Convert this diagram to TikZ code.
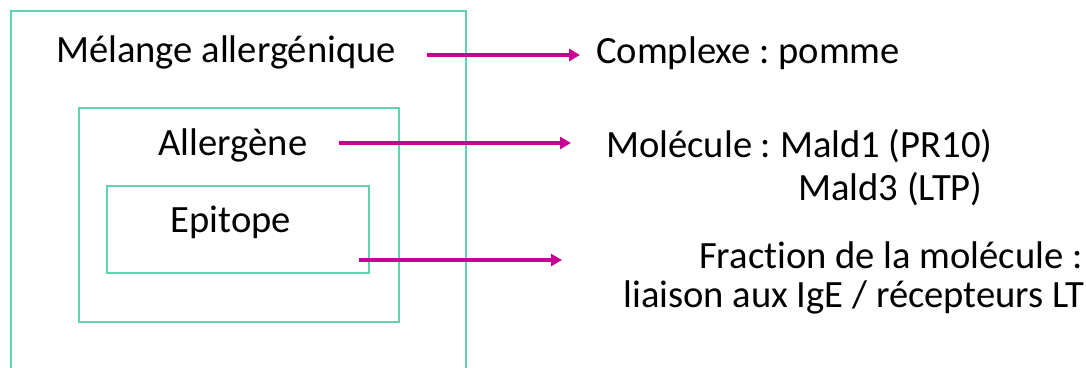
\documentclass[tikz,border=0pt]{standalone}
\usepackage{fontspec}
\setmainfont{Carlito}[Ligatures=NoCommon]
\usepackage{xcolor}
\usetikzlibrary{positioning,arrows.meta}
\definecolor{zonegreen}{RGB}{95,212,168}
\definecolor{lienmagenta}{RGB}{200,0,150}
\frenchspacing

\begin{document}
\begin{tikzpicture}[x=1pt, y=-1pt,
    zone box/.style={draw=zonegreen, line width=1.5pt, anchor=north west},
    label text/.style={font=\fontsize{38.6}{46}\selectfont, inner sep=0pt},
    lien/.style={draw=lienmagenta, line width=3.5pt, -{Triangle[length=11pt,width=12pt]}}]
    \useasboundingbox (0,0) rectangle (1086,367);

    \node[zone box, minimum width=455, minimum height=420] (melangebox) at (10,10) {};
    \node[zone box, minimum width=320, minimum height=214] (allergenebox) at (78,107) {};
    \node[zone box, minimum width=262, minimum height=87] (epitopebox) at (106,185) {};

    \node[label text, anchor=base] (melange) at (226,62) {Mélange allergénique};
    \node[label text, anchor=base] (allergene) at (233,155) {Allergène};
    \node[label text, anchor=base] (epitope) at (231,232) {Epitope};

    \node[label text, anchor=base west] (complexe) at (596,63) {Complexe : pomme};
    \node[label text, anchor=base west] (molecule) at (606,157) {Molécule : Mald1 (PR10)};
    \node[label text, anchor=base west] (mald3) at (798,200) {Mald3 (LTP)};
    \node[label text, anchor=base east] (fraction) at (1083,268) {Fraction de la molécule :};
    \node[label text, anchor=base east] (liaison) at (1085,307) {liaison aux IgE / récepteurs LT};

    \coordinate (d1) at (427,55);
    \coordinate (f1) at (580,55);
    \coordinate (d2) at (339,143);
    \coordinate (f2) at (571,143);
    \coordinate (d3) at (359,260);
    \coordinate (f3) at (562,260);

    \draw[lien] (d1) -- (f1);
    \draw[lien] (d2) -- (f2);
    \draw[lien] (d3) -- (f3);
\end{tikzpicture}
\end{document}
